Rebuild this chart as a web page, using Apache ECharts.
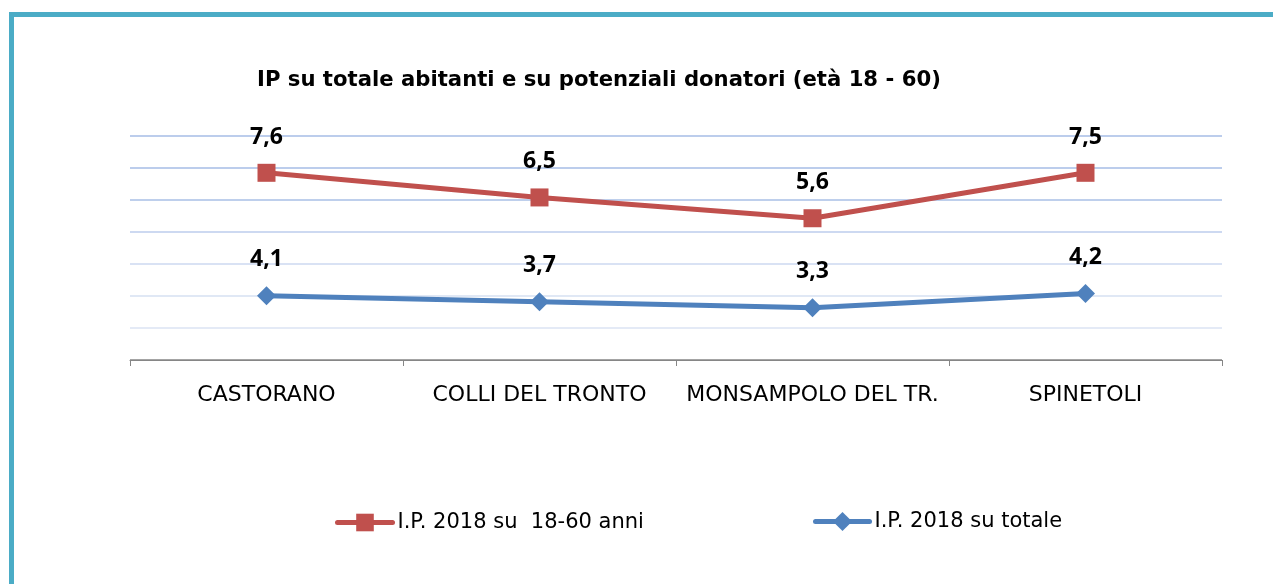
<!DOCTYPE html>
<html>
<head>
<meta charset="utf-8">
<script src="https://cdn.jsdelivr.net/npm/echarts@6/dist/echarts.min.js"></script>
<style>
  html, body { margin: 0; padding: 0; background: #fff; }
  #chart { width: 1273px; height: 584px; }
</style>
</head>
<body>
<div id="chart"></div>
<script>
// comuni
var categories = ['CASTORANO', 'COLLI DEL TRONTO', 'MONSAMPOLO DEL TR.', 'SPINETOLI'];

// valori mostrati nelle etichette
var adultLabels = [7.6, 6.5, 5.6, 7.5];
var totalLabels = [4.1, 3.7, 3.3, 4.2];

// altezza dei punti (asse 0 - 7, una griglia per unita)
var adultLevels = [5.85, 5.08, 4.43, 5.85];
var totalLevels = [2.01, 1.82, 1.63, 2.08];

var adultName = 'I.P. 2018 su  18-60 anni';
var totalName = 'I.P. 2018 su totale';

var wide = '"DejaVu Sans", sans-serif';
var boldFont = '"Open Sans", sans-serif';

function withComma(arr) {
	return function (p) {
		return String(arr[p.dataIndex]).replace('.', ',');
	};
}

var legendText = { fontFamily: wide, fontSize: 21, color: '#000' };

var option = {
	animation: false,
	title: {
		text: 'IP su totale abitanti e su potenziali donatori (età 18 - 60)',
		left: 252,
		top: 65,
		textStyle: {
			fontFamily: wide,
			fontWeight: 'bold',
			fontSize: 21.2,
			color: '#000'
		}
	},
	// cornice azzurra
	graphic: [{
		type: 'rect',
		shape: { x: 11.5, y: 14.5, width: 2000, height: 2000 },
		style: { fill: 'none', stroke: '#4bacc6', lineWidth: 5 },
		silent: true
	}],
	legend: [{
		data: [adultName],
		left: 330,
		top: 507,
		itemWidth: 55,
		itemHeight: 22,
		lineStyle: { width: 5, cap: 'round' },
		textStyle: legendText
	}, {
		data: [totalName],
		left: 808,
		top: 506,
		itemWidth: 54,
		itemHeight: 24,
		lineStyle: { width: 5, cap: 'round' },
		textStyle: legendText
	}],
	grid: {
		left: 130,
		right: 51,
		top: 136,
		bottom: 224
	},
	xAxis: {
		type: 'category',
		data: categories,
		boundaryGap: true,
		axisLine: { lineStyle: { color: '#868686', width: 1 } },
		axisTick: { show: true, length: 6, lineStyle: { color: '#868686' } },
		axisLabel: {
			interval: 0,
			fontFamily: wide,
			fontSize: 22,
			color: '#000',
			margin: 24
		}
	},
	yAxis: {
		type: 'value',
		min: 0,
		max: 7,
		interval: 1,
		axisLabel: { show: false },
		axisLine: { show: false },
		axisTick: { show: false },
		splitLine: {
			lineStyle: {
				width: 1.5,
				color: ['#868686', '#dbe3f3', '#d6e0f2', '#ccd9f0', '#bccdec', '#a9bfe6', '#a6bde6', '#a6bde6']
			}
		}
	},
	series: [{
		name: adultName,
		type: 'line',
		data: adultLevels,
		symbol: 'rect',
		symbolSize: 18,
		lineStyle: { color: '#c0504d', width: 5 },
		itemStyle: { color: '#c0504d' },
		label: {
			show: true,
			position: 'top',
			distance: 15,
			formatter: withComma(adultLabels),
			fontFamily: boldFont,
			fontWeight: 'bold',
			fontSize: 23,
			color: '#000'
		},
		z: 3
	}, {
		name: totalName,
		type: 'line',
		data: totalLevels,
		symbol: 'diamond',
		symbolSize: 19,
		lineStyle: { color: '#4f81bd', width: 5 },
		itemStyle: { color: '#4f81bd' },
		label: {
			show: true,
			position: 'top',
			distance: 15,
			formatter: withComma(totalLabels),
			fontFamily: boldFont,
			fontWeight: 'bold',
			fontSize: 23,
			color: '#000'
		},
		z: 2
	}]
};

var chart = echarts.init(document.getElementById('chart'));
chart.setOption(option);
</script>
</body>
</html>
